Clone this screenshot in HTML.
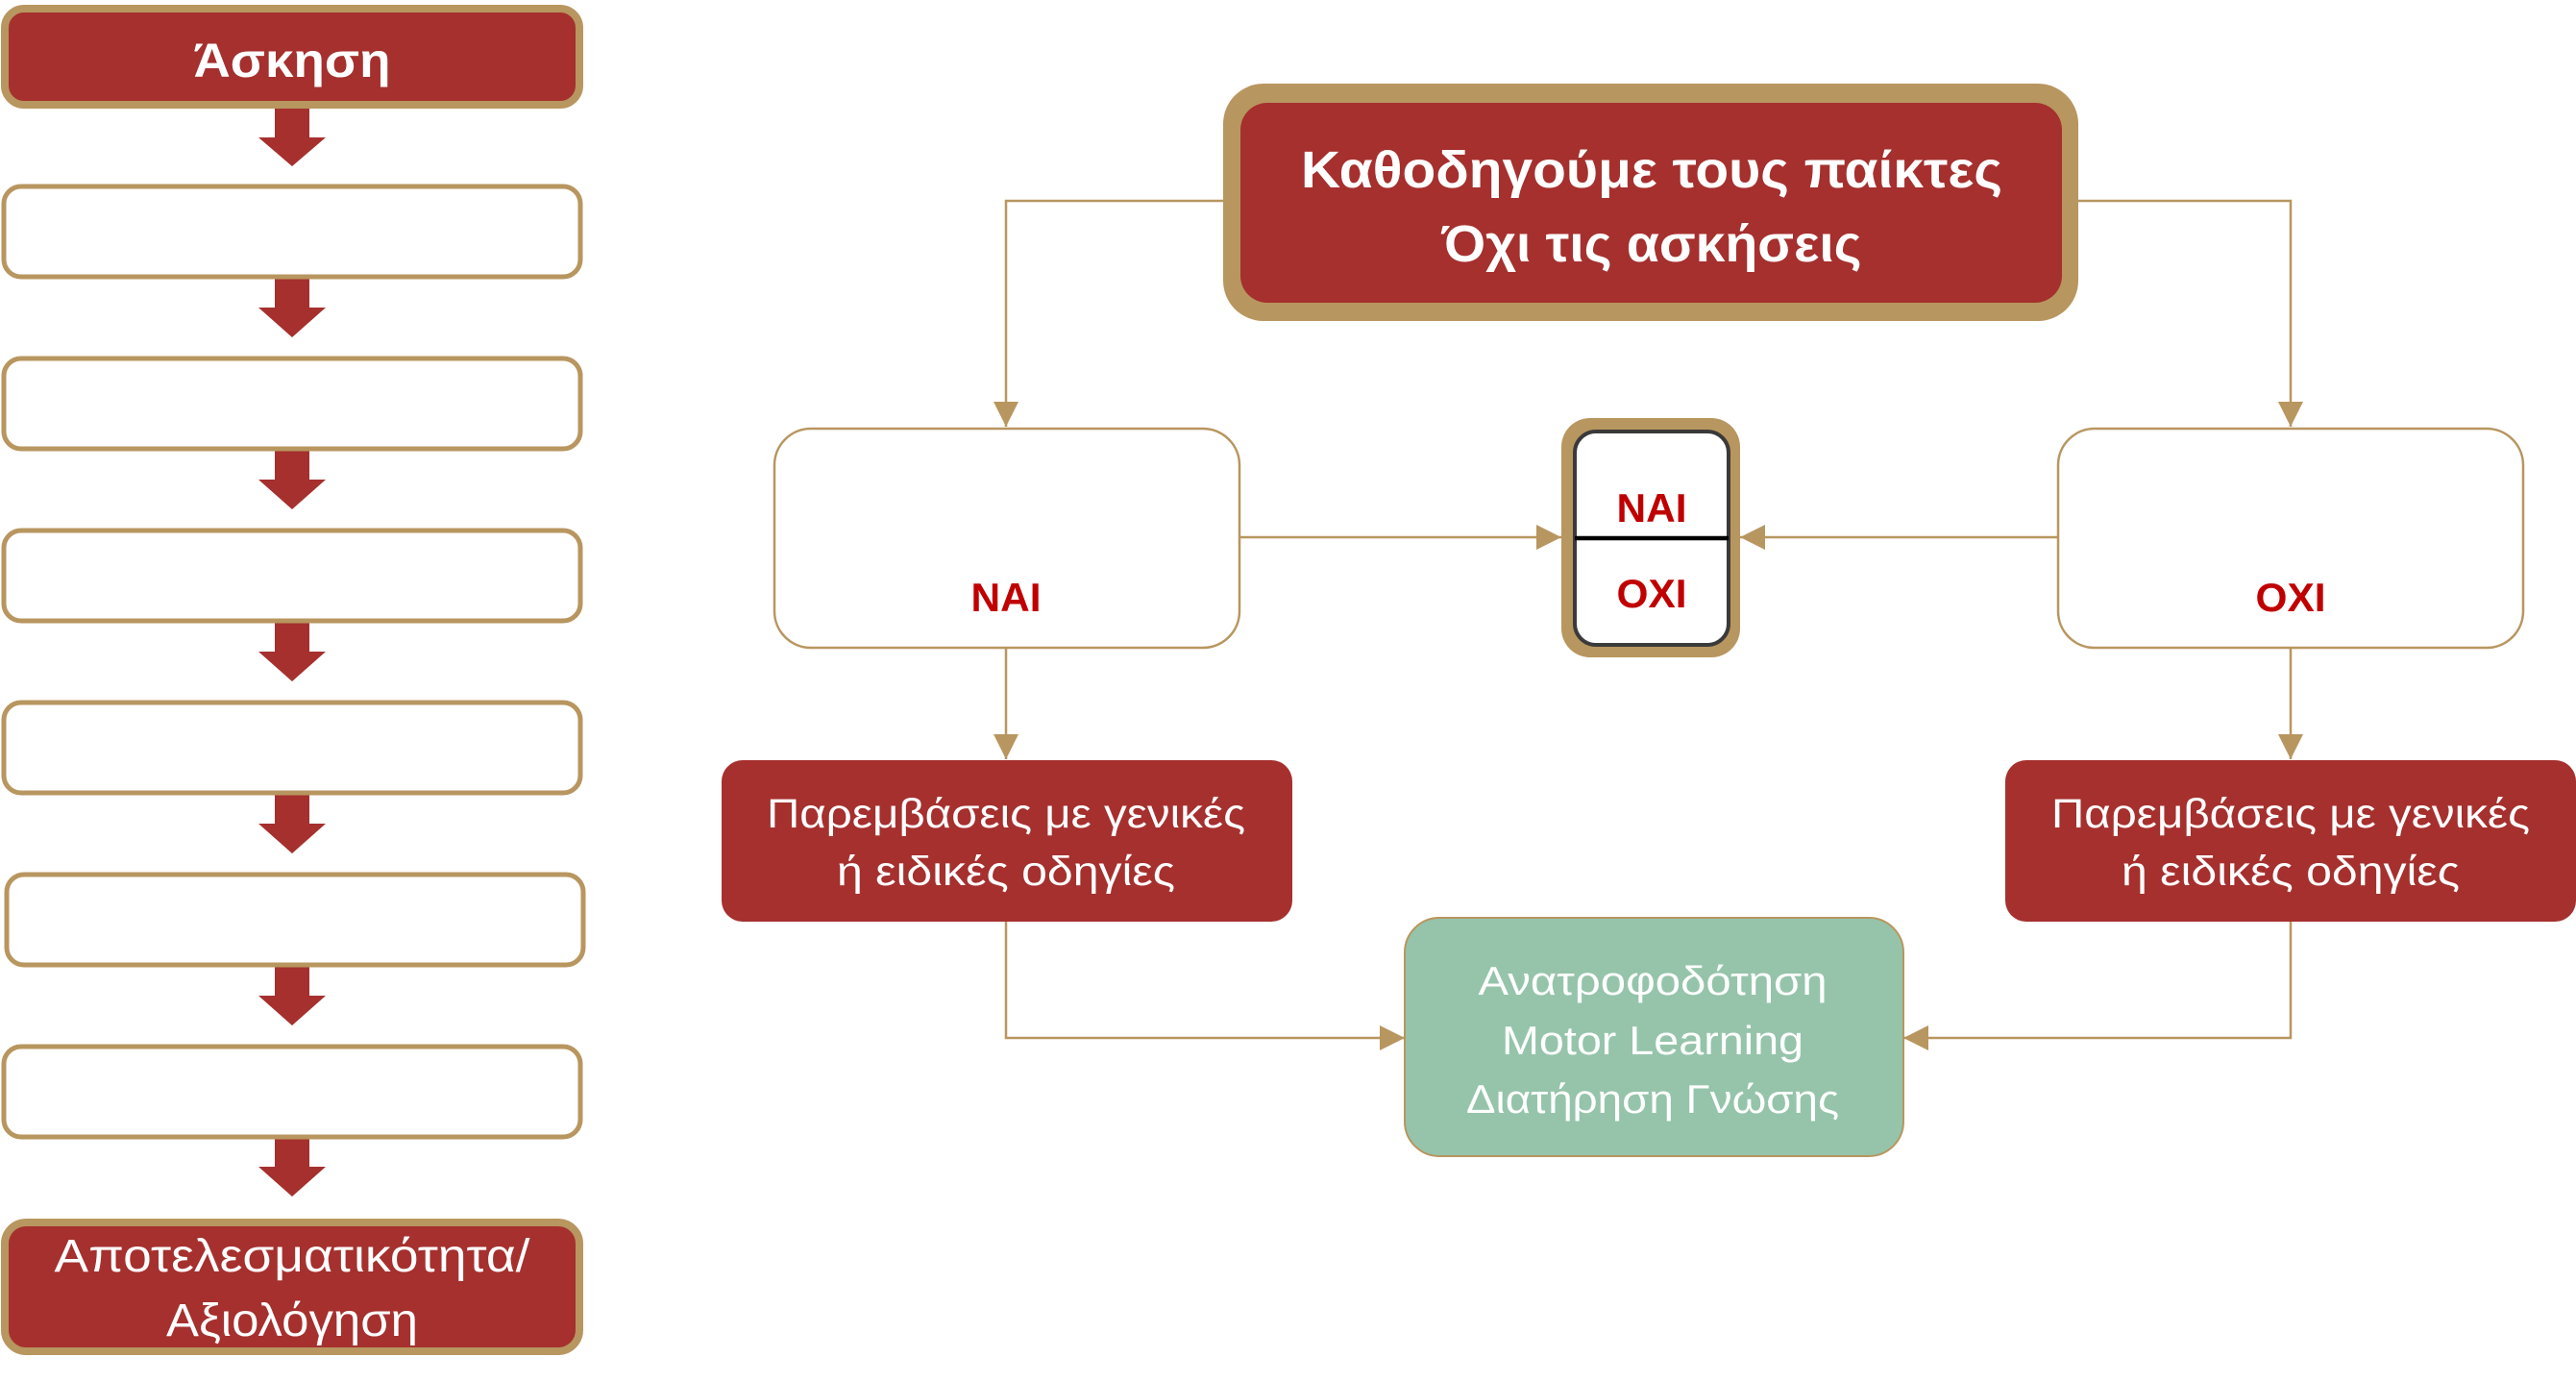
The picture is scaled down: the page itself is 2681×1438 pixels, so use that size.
<!DOCTYPE html>
<html><head><meta charset="utf-8"><style>
html,body{margin:0;padding:0;background:#fff;}
svg{display:block;}
text{font-family:"Liberation Sans","DejaVu Sans",sans-serif;}
</style></head><body>
<svg width="2681" height="1438" viewBox="0 0 2681 1438" xmlns="http://www.w3.org/2000/svg">
<defs>
<marker id="ah" viewBox="0 0 10 10" refX="10" refY="5" markerWidth="26" markerHeight="26" markerUnits="userSpaceOnUse" orient="auto">
<path d="M0,0 L10,5 L0,10 z" fill="#b8965f"/>
</marker>
</defs>
<!-- Left column -->
<rect x="5" y="9" width="598" height="100" rx="20" fill="#a5302e" stroke="#b8965f" stroke-width="8"/>
<text x="304" y="80" font-size="50" font-weight="bold" fill="#fff" text-anchor="middle" textLength="205" lengthAdjust="spacingAndGlyphs">Άσκηση</text>
<g fill="#a5302e">
<path d="M286,113 h36 v30 h17 l-35,30 l-35,-30 h17 z"/>
<path d="M286,290 h36 v30 h17 l-35,31 l-35,-31 h17 z"/>
<path d="M286,469 h36 v30 h17 l-35,31 l-35,-31 h17 z"/>
<path d="M286,648 h36 v30 h17 l-35,31 l-35,-31 h17 z"/>
<path d="M286,827 h36 v30 h17 l-35,31 l-35,-31 h17 z"/>
<path d="M286,1006 h36 v30 h17 l-35,31 l-35,-31 h17 z"/>
<path d="M286,1185 h36 v29 h17 l-35,31 l-35,-31 h17 z"/>
</g>
<g fill="#fff" stroke="#b8965f" stroke-width="5">
<rect x="4" y="194" width="600" height="94" rx="18"/>
<rect x="4" y="373" width="600" height="94" rx="18"/>
<rect x="4" y="552" width="600" height="94" rx="18"/>
<rect x="4" y="731" width="600" height="94" rx="18"/>
<rect x="7" y="910" width="600" height="94" rx="18"/>
<rect x="4" y="1089" width="600" height="94" rx="18"/>
</g>
<rect x="5" y="1272" width="598" height="134" rx="22" fill="#a5302e" stroke="#b8965f" stroke-width="8"/>
<text x="304" y="1323" font-size="48" fill="#fff" text-anchor="middle" textLength="495" lengthAdjust="spacingAndGlyphs">Αποτελεσματικότητα/</text>
<text x="304" y="1390" font-size="48" fill="#fff" text-anchor="middle" textLength="262" lengthAdjust="spacingAndGlyphs">Αξιολόγηση</text>

<!-- connectors -->
<g fill="none" stroke="#b8965f" stroke-width="2.5">
<path d="M1275,209 H1047 V444" marker-end="url(#ah)"/>
<path d="M2160,209 H2384 V444" marker-end="url(#ah)"/>
<path d="M1290,559 H1625" marker-end="url(#ah)"/>
<path d="M2141,559 H1811" marker-end="url(#ah)"/>
<path d="M1047,674 V790" marker-end="url(#ah)"/>
<path d="M2384,674 V790" marker-end="url(#ah)"/>
<path d="M1047,959 V1080 H1462" marker-end="url(#ah)"/>
<path d="M2384,959 V1080 H1981" marker-end="url(#ah)"/>
</g>

<!-- header -->
<rect x="1273" y="87" width="890" height="247" rx="42" fill="#b8965f"/>
<rect x="1291" y="107" width="855" height="208" rx="28" fill="#a5302e"/>
<text x="1719" y="195" font-size="54" font-weight="bold" fill="#fff" text-anchor="middle" textLength="730" lengthAdjust="spacingAndGlyphs">Καθοδηγούμε τους παίκτες</text>
<text x="1719" y="272" font-size="54" font-weight="bold" fill="#fff" text-anchor="middle" textLength="437" lengthAdjust="spacingAndGlyphs">Όχι τις ασκήσεις</text>

<!-- NAI / OXI boxes -->
<rect x="806" y="446" width="484" height="228" rx="38" fill="#fff" stroke="#b8965f" stroke-width="2.5"/>
<text x="1047" y="636" font-size="42" font-weight="bold" fill="#c00000" text-anchor="middle" textLength="73" lengthAdjust="spacingAndGlyphs">NAI</text>
<rect x="2142" y="446" width="484" height="228" rx="38" fill="#fff" stroke="#b8965f" stroke-width="2.5"/>
<text x="2384" y="636" font-size="42" font-weight="bold" fill="#c00000" text-anchor="middle" textLength="73" lengthAdjust="spacingAndGlyphs">OXI</text>

<!-- middle -->
<rect x="1625" y="435" width="186" height="249" rx="30" fill="#b8965f"/>
<rect x="1639" y="449" width="160" height="222" rx="22" fill="#fff" stroke="#3a3a3a" stroke-width="4"/>
<line x1="1639" y1="560" x2="1799" y2="560" stroke="#000" stroke-width="4.5"/>
<text x="1719" y="543" font-size="42" font-weight="bold" fill="#c00000" text-anchor="middle" textLength="73" lengthAdjust="spacingAndGlyphs">NAI</text>
<text x="1719" y="632" font-size="42" font-weight="bold" fill="#c00000" text-anchor="middle" textLength="73" lengthAdjust="spacingAndGlyphs">OXI</text>

<!-- interventions -->
<rect x="751" y="791" width="594" height="168" rx="22" fill="#a5302e"/>
<text x="1047" y="861" font-size="43" fill="#fff" text-anchor="middle" textLength="498" lengthAdjust="spacingAndGlyphs">Παρεμβάσεις με γενικές</text>
<text x="1047" y="921" font-size="43" fill="#fff" text-anchor="middle" textLength="352" lengthAdjust="spacingAndGlyphs">ή ειδικές οδηγίες</text>
<rect x="2087" y="791" width="594" height="168" rx="22" fill="#a5302e"/>
<text x="2384" y="861" font-size="43" fill="#fff" text-anchor="middle" textLength="498" lengthAdjust="spacingAndGlyphs">Παρεμβάσεις με γενικές</text>
<text x="2384" y="921" font-size="43" fill="#fff" text-anchor="middle" textLength="352" lengthAdjust="spacingAndGlyphs">ή ειδικές οδηγίες</text>

<!-- green -->
<rect x="1462" y="955" width="519" height="248" rx="36" fill="#95c4aa" stroke="#b8965f" stroke-width="2"/>
<text x="1720" y="1035" font-size="42" fill="#fff" text-anchor="middle" textLength="363" lengthAdjust="spacingAndGlyphs">Ανατροφοδότηση</text>
<text x="1720" y="1097" font-size="42" fill="#fff" text-anchor="middle" textLength="314" lengthAdjust="spacingAndGlyphs">Motor Learning</text>
<text x="1720" y="1158" font-size="42" fill="#fff" text-anchor="middle" textLength="388" lengthAdjust="spacingAndGlyphs">Διατήρηση Γνώσης</text>
</svg>
</body></html>
